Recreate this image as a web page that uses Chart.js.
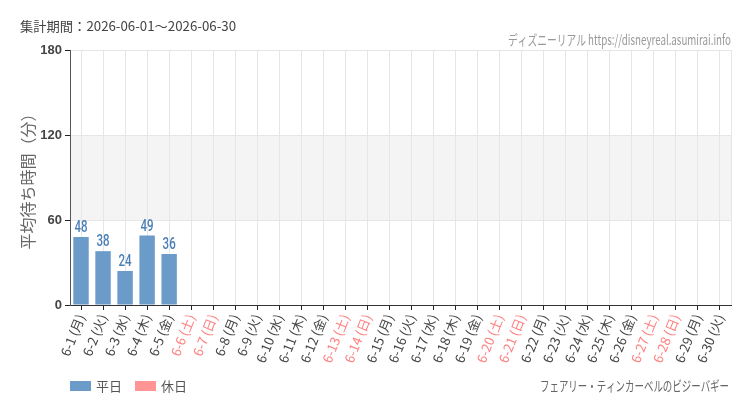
<!DOCTYPE html>
<html><head><meta charset="utf-8">
<script src="https://cdn.jsdelivr.net/npm/chart.js@4/dist/chart.umd.min.js"></script>
<style>html,body{margin:0;padding:0;background:#fff;}#wrap{width:750px;height:410px;position:relative;}</style>
</head><body><div id="wrap"><canvas id="c" width="750" height="410"></canvas></div>
<script>
const categories = ["6-1 (月)","6-2 (火)","6-3 (水)","6-4 (木)","6-5 (金)","6-6 (土)","6-7 (日)","6-8 (月)","6-9 (火)","6-10 (水)","6-11 (木)","6-12 (金)","6-13 (土)","6-14 (日)","6-15 (月)","6-16 (火)","6-17 (水)","6-18 (木)","6-19 (金)","6-20 (土)","6-21 (日)","6-22 (月)","6-23 (火)","6-24 (水)","6-25 (木)","6-26 (金)","6-27 (土)","6-28 (日)","6-29 (月)","6-30 (火)"];
const holidays = [false,false,false,false,false,true,true,false,false,false,false,false,true,true,false,false,false,false,false,true,true,false,false,false,false,false,true,true,false,false];
const waitTimes = [48,38,24,49,36,null,null,null,null,null,null,null,null,null,null,null,null,null,null,null,null,null,null,null,null,null,null,null,null,null];
const yTicks = [0,60,120,180];
const titleText = "集計期間：2026-06-01～2026-06-30";
const creditText = "ディズニーリアル https://disneyreal.asumirai.info";
const attractionText = "フェアリー・ティンカーベルのビジーバギー";
const legendLabels = ["平日","休日"];

const BLUE = "#6b9bc9", PINK = "#ff9595", LABEL_BLUE = "#4a7fb6";
const JP = "'Noto Sans CJK JP','Noto Sans',sans-serif";

function fitText(ctx, text, x, y, width, align){
  const w = ctx.measureText(text).width;
  const s = width / w;
  ctx.save();
  ctx.textAlign = 'left';
  const left = align === 'right' ? x - width : x;
  ctx.translate(left, y);
  ctx.scale(s, 1);
  ctx.fillText(text, 0, 0);
  ctx.restore();
}

const deco = {
  id:'deco',
  beforeDraw(chart){
    const {ctx, chartArea:a, scales:{y}} = chart;
    ctx.save();
    ctx.fillStyle = '#fff';
    ctx.fillRect(0,0,chart.width,chart.height);
    ctx.fillStyle = '#f4f4f4';
    const y1 = y.getPixelForValue(120), y0 = y.getPixelForValue(60);
    ctx.fillRect(a.left, y1, a.right-a.left, y0-y1);
    ctx.restore();
  },
  afterDraw(chart){
    const {ctx, chartArea:a} = chart;
    ctx.save();
    ctx.strokeStyle = '#e6e6e6'; ctx.lineWidth = 1;
    ctx.beginPath(); ctx.moveTo(a.right+0.5, a.top); ctx.lineTo(a.right+0.5, a.bottom); ctx.stroke();
    // data labels
    ctx.fillStyle = LABEL_BLUE;
    ctx.font = "500 16px Roboto, sans-serif";
    ctx.textBaseline = 'bottom';
    const meta = chart.getDatasetMeta(0);
    meta.data.forEach((bar,i)=>{
      const v = waitTimes[i];
      if (v == null) return;
      ctx.save();
      ctx.translate(bar.x, bar.y - 1);
      ctx.scale(0.72, 1);
      ctx.textAlign = 'center';
      ctx.fillText(String(v), 0, 0);
      ctx.restore();
    });
    ctx.textBaseline = 'middle';
    // title
    ctx.fillStyle = '#444';
    ctx.font = "13px " + JP;
    fitText(ctx, titleText, 20, 26, 216, 'left');
    // credit
    ctx.fillStyle = '#999';
    ctx.font = "14px " + JP;
    fitText(ctx, creditText, 731, 40, 223, 'right');
    // attraction name
    ctx.fillStyle = '#666';
    ctx.font = "14px " + JP;
    fitText(ctx, attractionText, 729, 386, 189, 'right');
    // legend
    ctx.textAlign = 'left';
    ctx.font = "13px " + JP;
    ctx.fillStyle = BLUE; ctx.fillRect(70,381,21,10);
    ctx.fillStyle = '#555'; ctx.fillText(legendLabels[0], 96, 386);
    ctx.fillStyle = PINK; ctx.fillRect(135,381,21,10);
    ctx.fillStyle = '#555'; ctx.fillText(legendLabels[1], 161, 386);
    ctx.restore();
  }
};

new Chart(document.getElementById('c'), {
  type:'bar',
  data:{
    labels: categories,
    datasets:[{
      data: waitTimes,
      backgroundColor: holidays.map(h => h ? PINK : BLUE),
      borderWidth: 0,
      categoryPercentage: 0.7,
      barPercentage: 1.0
    }]
  },
  options:{
    responsive:false,
    animation:false,
    devicePixelRatio:1,
    layout:{padding:{top:50,right:19,left:18,bottom:0}},
    plugins:{legend:{display:false}, tooltip:{enabled:false}},
    scales:{
      x:{
        afterFit(s){ s.height = 105; },
        grid:{offset:false, color:'#e6e6e6', tickColor:'#222', tickLength:5, drawOnChartArea:true},
        border:{display:true, color:'#333', width:1},
        ticks:{
          autoSkip:false, maxRotation:68, minRotation:68, padding:2,
          font:{size:13, family:JP},
          color: (c) => holidays[c.index] ? '#ff7f7f' : '#444'
        }
      },
      y:{
        min:0, max:180,
        afterFit(s){ s.width = 52; },
        afterBuildTicks(s){ s.ticks = yTicks.map(v=>({value:v})); },
        grid:{color:'#e6e6e6', tickColor:'#222', tickLength:5},
        border:{display:true, color:'#555', width:1},
        ticks:{font:{size:13, family:"'Liberation Sans',sans-serif", weight:'bold'}, color:'#444', padding:3},
        title:{display:true, text:'平均待ち時間（分）', font:{size:16, family:JP}, color:'#666', padding:{top:0,bottom:0}}
      }
    }
  },
  plugins:[deco]
});
</script></body></html>
